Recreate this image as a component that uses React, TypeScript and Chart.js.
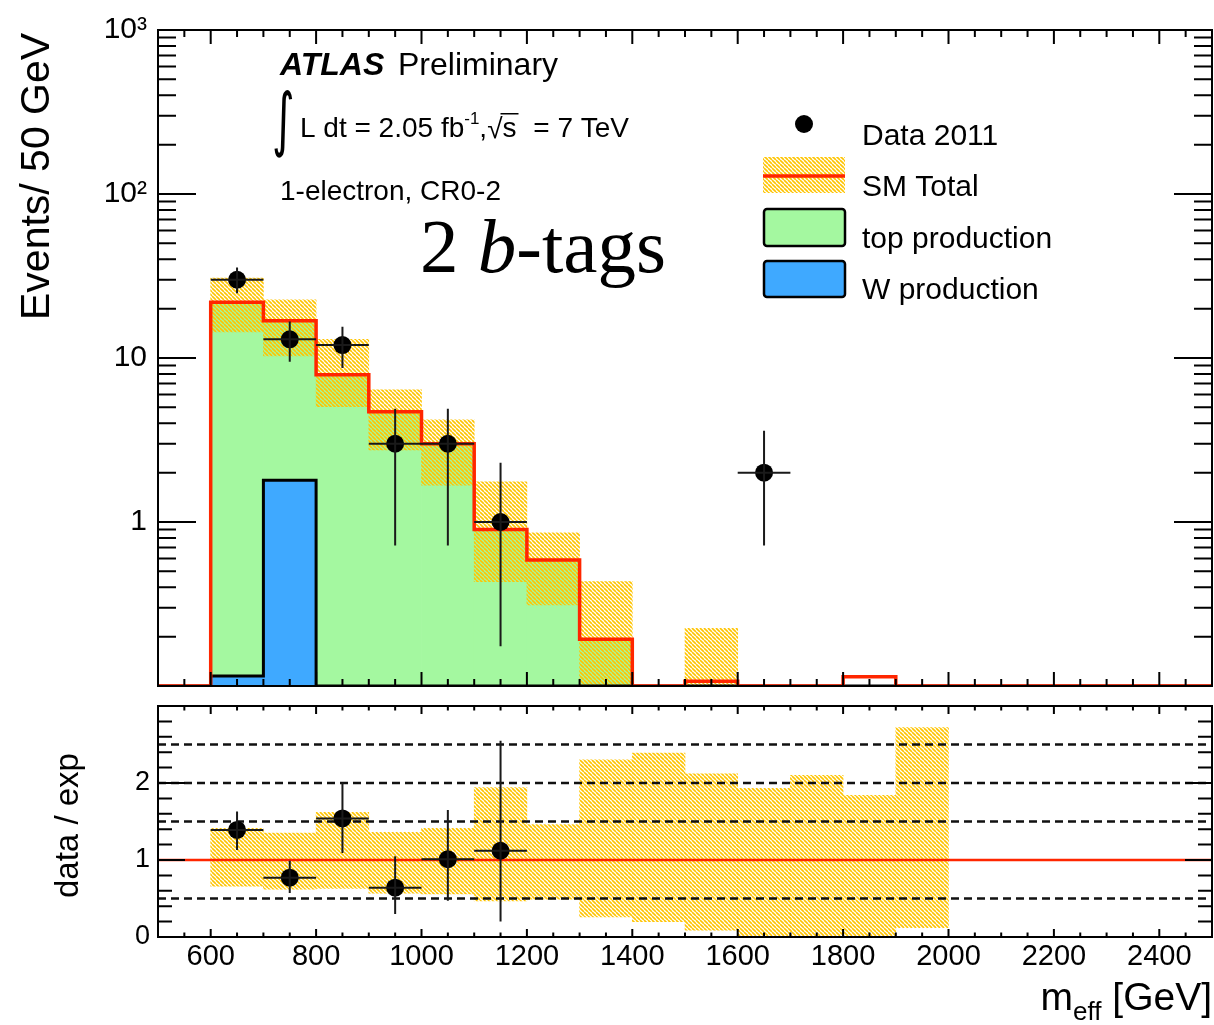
import React, { useEffect, useRef } from 'react';
import { Chart, registerables } from 'chart.js';

Chart.register(...registerables);

const SANS = '"Liberation Sans", Arial, Helvetica, sans-serif';
const SERIF = '"Liberation Serif", "Times New Roman", serif';

// ---------------- data ----------------
const binEdges = [500, 600, 700, 800, 900, 1000, 1100, 1200, 1300, 1400, 1500, 1600, 1700, 1800, 1900, 2000, 2100, 2200, 2300, 2400, 2500];
const binLabels = binEdges.slice(0, -1).map((lo, i) => `${lo}-${binEdges[i + 1]}`);

const smTotal = [0, 21.9, 16.9, 7.9, 4.7, 3.0, 0.9, 0.586, 0.193, 0.04, 0.107, 0.03, 0.03, 0.114, 0.035, 0, 0, 0, 0, 0];
const topProduction = [0, 21.8, 15.1, 7.9, 4.7, 3.0, 0.9, 0.586, 0.193, 0.04, 0.03, 0.03, 0.03, 0.03, 0.035, 0, 0, 0, 0, 0];
const wProduction = [0, 0.115, 1.8, 0, 0, 0, 0, 0, 0, 0, 0, 0, 0, 0, 0, 0, 0, 0, 0, 0];
const smBandHigh = [null, 30.7, 22.6, 13.0, 6.4, 4.2, 1.76, 0.86, 0.433, 0.09, 0.225, 0.058, 0.063, 0.205, 0.095, null, null, null, null, null];
const smBandLow = [null, 14.4, 10.3, 5.05, 2.75, 1.68, 0.433, 0.312, 0.048, 0.008, 0.01, 0, 0, 0, 0.004, null, null, null, null, null];

const dataMeff = [650, 750, 850, 950, 1050, 1150, 1650];
const dataEvents = [30, 13, 12, 3, 3, 1, 2];
const dataErrHigh = [35.6, 16.7, 15.5, 4.9, 4.9, 2.3, 3.6];
const dataErrLow = [24.8, 9.5, 8.7, 0.72, 0.72, 0.175, 0.72];

const ratioMeff = [650, 750, 850, 950, 1050, 1150];
const ratioValues = [1.39, 0.77, 1.54, 0.64, 1.01, 1.12];
const ratioErrHigh = [1.63, 0.99, 2.0, 1.05, 1.65, 2.55];
const ratioErrLow = [1.13, 0.57, 1.09, 0.30, 0.47, 0.20];
const ratioBandHigh = [null, 1.41, 1.35, 1.62, 1.36, 1.41, 1.94, 1.46, 2.30, 2.39, 2.12, 1.93, 2.10, 1.84, 2.72, null, null, null, null, null];
const ratioBandLow = [null, 0.66, 0.62, 0.63, 0.57, 0.56, 0.47, 0.49, 0.26, 0.20, 0.09, 0, 0, 0, 0.12, null, null, null, null, null];
const ratioRefLines = [0.5, 1.5, 2, 2.5];
const ratioUnity = 1;

const yTickValues = [1, 10, 100, 1000];
const yTickLabels = ['1', '10', '10²', '10³'];
const xTickValues = [600, 800, 1000, 1200, 1400, 1600, 1800, 2000, 2200, 2400];
const ratioTickValues = [0, 1, 2];
const ratioTickLabels = ['0', '1', '2'];

const X_MIN = 500;
const X_MAX = 2500;
const Y_MIN = 0.1;
const Y_MAX = 1000;

const GREEN = '#a4f8a0';
const BLUE = '#3fa9ff';
const RED = '#ff2600';
const HATCH = '#ffc400';

// ---------------- helpers ----------------
function makeHatch(color: string): CanvasPattern | string {
  const s = 4;
  const c = document.createElement('canvas');
  c.width = s;
  c.height = s;
  const g = c.getContext('2d');
  if (!g) return color;
  g.strokeStyle = color;
  g.lineWidth = 1.6;
  g.beginPath();
  for (const x0 of [-s, 0, s]) {
    g.moveTo(x0, 0);
    g.lineTo(x0 + s, s);
  }
  g.stroke();
  return g.createPattern(c, 'repeat') || color;
}

function stepPoints(values: number[], floor: number) {
  const pts = values.map((v, i) => ({ x: binEdges[i], y: Math.max(v, floor) }));
  pts.push({ x: binEdges[binEdges.length - 1], y: Math.max(values[values.length - 1], floor) });
  return pts;
}

type Tick = { v: number; len: number };

function framePlugin(id: string, xTicks: Tick[], yTicks: Tick[]) {
  return {
    id,
    afterDraw(chart: any) {
      const { ctx, chartArea: a, scales } = chart;
      ctx.save();
      ctx.strokeStyle = '#000';
      ctx.lineWidth = 2;
      ctx.beginPath();
      for (const t of xTicks) {
        const px = scales.x.getPixelForValue(t.v);
        ctx.moveTo(px, a.bottom);
        ctx.lineTo(px, a.bottom - t.len);
        ctx.moveTo(px, a.top);
        ctx.lineTo(px, a.top + t.len);
      }
      for (const t of yTicks) {
        const py = scales.y.getPixelForValue(t.v);
        ctx.moveTo(a.left, py);
        ctx.lineTo(a.left + t.len, py);
        ctx.moveTo(a.right, py);
        ctx.lineTo(a.right - t.len, py);
      }
      ctx.stroke();
      ctx.strokeRect(a.left, a.top, a.right - a.left, a.bottom - a.top);
      ctx.restore();
    },
  };
}

function errorBarPlugin(id: string, xs: number[], ys: number[], hi: number[], lo: number[]) {
  return {
    id,
    afterDatasetsDraw(chart: any) {
      const { ctx, chartArea: a, scales } = chart;
      ctx.save();
      ctx.beginPath();
      ctx.rect(a.left, a.top, a.right - a.left, a.bottom - a.top);
      ctx.clip();
      ctx.strokeStyle = '#1a1a1a';
      ctx.lineWidth = 2;
      ctx.beginPath();
      for (let i = 0; i < xs.length; i++) {
        const px = scales.x.getPixelForValue(xs[i]);
        const py = scales.y.getPixelForValue(ys[i]);
        ctx.moveTo(scales.x.getPixelForValue(xs[i] - 50), py);
        ctx.lineTo(scales.x.getPixelForValue(xs[i] + 50), py);
        ctx.moveTo(px, scales.y.getPixelForValue(hi[i]));
        ctx.lineTo(px, scales.y.getPixelForValue(lo[i]));
      }
      ctx.stroke();
      ctx.restore();
    },
  };
}

function xTickList(major: number, minor: number): Tick[] {
  const out: Tick[] = [];
  for (let v = X_MIN; v <= X_MAX; v += 50) out.push({ v, len: v % 200 === 0 ? major : minor });
  return out;
}

function logTickList(major: number, minor: number): Tick[] {
  const out: Tick[] = [];
  for (let d = Y_MIN; d < Y_MAX * 0.99; d *= 10) {
    for (let k = 1; k <= 9; k++) out.push({ v: k * d, len: k === 1 ? major : minor });
  }
  out.push({ v: Y_MAX, len: major });
  return out;
}

function ratioTickList(major: number, minor: number): Tick[] {
  const out: Tick[] = [];
  for (let k = 0; k <= 15; k++) out.push({ v: k / 5, len: k % 5 === 0 ? major : minor });
  return out;
}

function topTextPlugin(hatch: CanvasPattern | string) {
  return {
    id: 'topText',
    afterDraw(chart: any) {
      const ctx: CanvasRenderingContext2D = chart.ctx;
      ctx.save();
      ctx.fillStyle = '#000';
      ctx.textAlign = 'left';
      ctx.textBaseline = 'alphabetic';

      // y title
      ctx.save();
      ctx.translate(49, 320);
      ctx.rotate(-Math.PI / 2);
      ctx.font = `41px ${SANS}`;
      ctx.fillText('Events/ 50 GeV', 0, 0);
      ctx.restore();

      // ATLAS Preliminary
      ctx.font = `italic bold 32px ${SANS}`;
      ctx.fillText('ATLAS', 280, 75);
      ctx.font = `32px ${SANS}`;
      ctx.fillText('Preliminary', 398, 75);

      // integral line
      ctx.save();
      ctx.translate(272, 143);
      ctx.scale(0.62, 1);
      ctx.font = `70px "DejaVu Sans", sans-serif`;
      ctx.fillText('∫', 0, 0);
      ctx.restore();
      let x = 300;
      const base = 137;
      ctx.font = `28px ${SANS}`;
      ctx.fillText('L dt = 2.05 fb', x, base);
      x += ctx.measureText('L dt = 2.05 fb').width;
      ctx.font = `17px ${SANS}`;
      ctx.fillText('-1', x, base - 13);
      x += ctx.measureText('-1').width;
      ctx.font = `28px ${SANS}`;
      ctx.fillText(',', x, base);
      x += ctx.measureText(',').width;
      ctx.fillText('√', x, base + 1);
      x += ctx.measureText('√').width;
      const sw = ctx.measureText('s').width;
      ctx.fillText('s', x, base);
      ctx.fillRect(x - 2, base - 24, sw + 4, 1.5);
      x += sw;
      ctx.fillText(' = 7 TeV', x + 9, base);

      ctx.font = `28px ${SANS}`;
      ctx.fillText('1-electron, CR0-2', 280, 200);

      // 2 b-tags
      x = 420;
      ctx.font = `77px ${SERIF}`;
      ctx.fillText('2 ', x, 272);
      x += ctx.measureText('2 ').width;
      ctx.font = `italic 77px ${SERIF}`;
      ctx.fillText('b', x, 272);
      x += ctx.measureText('b').width;
      ctx.font = `77px ${SERIF}`;
      ctx.fillText('-tags', x, 272);

      // legend
      ctx.beginPath();
      ctx.arc(804, 124, 9, 0, Math.PI * 2);
      ctx.fill();

      ctx.fillStyle = hatch as any;
      ctx.fillRect(763, 157, 82, 36);
      ctx.strokeStyle = RED;
      ctx.lineWidth = 3.5;
      ctx.beginPath();
      ctx.moveTo(763, 176);
      ctx.lineTo(845, 176);
      ctx.stroke();

      ctx.lineWidth = 2.5;
      ctx.strokeStyle = '#000';
      ctx.fillStyle = GREEN;
      ctx.beginPath();
      (ctx as any).roundRect(764, 209, 81, 37, 3);
      ctx.fill();
      ctx.stroke();
      ctx.fillStyle = BLUE;
      ctx.beginPath();
      (ctx as any).roundRect(764, 261, 81, 36, 3);
      ctx.fill();
      ctx.stroke();

      ctx.fillStyle = '#000';
      ctx.font = `30px ${SANS}`;
      ctx.fillText('Data 2011', 862, 145);
      ctx.fillText('SM Total', 862, 196);
      ctx.fillText('top production', 862, 248);
      ctx.fillText('W production', 862, 299);
      ctx.restore();
    },
  };
}

const bottomTextPlugin = {
  id: 'bottomText',
  afterDraw(chart: any) {
    const ctx: CanvasRenderingContext2D = chart.ctx;
    ctx.save();
    ctx.fillStyle = '#000';
    ctx.textBaseline = 'alphabetic';
    ctx.textAlign = 'left';
    ctx.save();
    ctx.translate(78, 218);
    ctx.rotate(-Math.PI / 2);
    ctx.font = `33px ${SANS}`;
    ctx.fillText('data / exp', 0, 0);
    ctx.restore();

    const main = `39px ${SANS}`;
    const sub = `26px ${SANS}`;
    ctx.font = main;
    const wm = ctx.measureText('m').width;
    const wg = ctx.measureText(' [GeV]').width;
    ctx.font = sub;
    const we = ctx.measureText('eff').width;
    let x = chart.chartArea.right - (wm + we + wg);
    ctx.font = main;
    ctx.fillText('m', x, 330);
    x += wm;
    ctx.font = sub;
    ctx.fillText('eff', x, 340);
    x += we;
    ctx.font = main;
    ctx.fillText(' [GeV]', x, 330);
    ctx.restore();
  },
};

export default function App() {
  const topRef = useRef<HTMLCanvasElement>(null);
  const botRef = useRef<HTMLCanvasElement>(null);

  useEffect(() => {
    if (!topRef.current || !botRef.current) return;
    const hatch = makeHatch(HATCH);

    const barCommon = {
      type: 'bar' as const,
      xAxisID: 'xb',
      yAxisID: 'y',
      barPercentage: 1,
      categoryPercentage: 1,
      grouped: false,
      borderWidth: 0,
      clip: 0,
    };

    const topChart = new Chart(topRef.current, {
      type: 'bar',
      data: {
        labels: binLabels,
        datasets: [
          {
            type: 'line',
            label: 'Data 2011',
            xAxisID: 'x',
            yAxisID: 'y',
            data: dataMeff.map((x, i) => ({ x, y: dataEvents[i] })),
            showLine: false,
            pointRadius: 9,
            pointBackgroundColor: '#000',
            pointBorderWidth: 0,
            order: 1,
          },
          {
            type: 'line',
            label: 'SM Total',
            xAxisID: 'x',
            yAxisID: 'y',
            data: stepPoints(smTotal, Y_MIN),
            stepped: 'before',
            borderColor: RED,
            borderWidth: 3.5,
            pointRadius: 0,
            fill: false,
            order: 2,
          },
          {
            type: 'line',
            label: 'W outline',
            xAxisID: 'x',
            yAxisID: 'y',
            data: stepPoints(wProduction, Y_MIN),
            stepped: 'before',
            borderColor: '#000',
            borderWidth: 3,
            pointRadius: 0,
            fill: false,
            order: 3,
          },
          {
            ...barCommon,
            label: 'SM uncertainty',
            data: smBandHigh.map((hi, i) => (hi == null ? null : [smBandLow[i] as number, hi])),
            backgroundColor: hatch as any,
            order: 4,
          },
          {
            ...barCommon,
            label: 'W production',
            data: wProduction,
            backgroundColor: BLUE,
            order: 5,
          },
          {
            ...barCommon,
            label: 'top production',
            data: topProduction.map((v, i) => v + wProduction[i]),
            backgroundColor: GREEN,
            order: 6,
          },
        ] as any,
      },
      options: {
        responsive: false,
        animation: false,
        events: [],
        layout: { autoPadding: false, padding: { left: 0, right: 2, top: 30, bottom: 34 } },
        plugins: { legend: { display: false }, tooltip: { enabled: false } },
        scales: {
          x: { type: 'linear', min: X_MIN, max: X_MAX, display: false, offset: false, grid: { offset: false } },
          xb: { type: 'category', display: false, offset: true },
          y: {
            type: 'logarithmic',
            min: Y_MIN,
            max: Y_MAX,
            position: 'left',
            afterBuildTicks: (s: any) => {
              s.ticks = yTickValues.map((v) => ({ value: v }));
            },
            afterFit: (s: any) => {
              s.width = 158;
            },
            grid: { display: false, drawTicks: false },
            border: { display: false },
            ticks: {
              autoSkip: false,
              padding: 11,
              color: '#000',
              font: { family: SANS, size: 30 },
              callback: (_v: any, i: number) => yTickLabels[i],
            },
          },
        } as any,
      },
      plugins: [
        errorBarPlugin('topErr', dataMeff, dataEvents, dataErrHigh, dataErrLow),
        framePlugin('topFrame', xTickList(14, 7), logTickList(38, 18)),
        topTextPlugin(hatch),
      ],
    });

    const botChart = new Chart(botRef.current, {
      type: 'bar',
      data: {
        labels: binLabels,
        datasets: [
          {
            type: 'line',
            label: 'ratio',
            xAxisID: 'x',
            yAxisID: 'y',
            data: ratioMeff.map((x, i) => ({ x, y: ratioValues[i] })),
            showLine: false,
            pointRadius: 9,
            pointBackgroundColor: '#000',
            pointBorderWidth: 0,
            order: 1,
          },
          {
            type: 'line',
            label: 'unity',
            xAxisID: 'x',
            yAxisID: 'y',
            data: [{ x: X_MIN, y: ratioUnity }, { x: X_MAX, y: ratioUnity }],
            borderColor: RED,
            borderWidth: 2.5,
            pointRadius: 0,
            fill: false,
            order: 2,
          },
          ...ratioRefLines.map((r) => ({
            type: 'line',
            label: `ref ${r}`,
            xAxisID: 'x',
            yAxisID: 'y',
            data: [{ x: X_MIN, y: r }, { x: X_MAX, y: r }],
            borderColor: '#111',
            borderWidth: 2.5,
            borderDash: [8, 5],
            pointRadius: 0,
            fill: false,
            order: 3,
          })),
          {
            ...barCommon,
            label: 'band',
            data: ratioBandHigh.map((hi, i) => (hi == null ? null : [ratioBandLow[i] as number, hi])),
            backgroundColor: hatch as any,
            order: 10,
          },
        ] as any,
      },
      options: {
        responsive: false,
        animation: false,
        events: [],
        layout: { autoPadding: false, padding: { left: 0, right: 2, top: 26, bottom: 0 } },
        plugins: { legend: { display: false }, tooltip: { enabled: false } },
        scales: {
          x: {
            type: 'linear',
            min: X_MIN,
            max: X_MAX,
            position: 'bottom',
            offset: false,
            afterBuildTicks: (s: any) => {
              s.ticks = xTickValues.map((v) => ({ value: v }));
            },
            afterFit: (s: any) => {
              s.height = 88;
            },
            grid: { display: false, drawTicks: false, offset: false },
            border: { display: false },
            ticks: {
              autoSkip: false,
              maxRotation: 0,
              padding: 3,
              color: '#000',
              font: { family: SANS, size: 29 },
              callback: (_v: any, i: number) => String(xTickValues[i]),
            },
          },
          xb: { type: 'category', display: false, offset: true },
          y: {
            type: 'linear',
            min: 0,
            max: 3,
            position: 'left',
            afterBuildTicks: (s: any) => {
              s.ticks = ratioTickValues.map((v) => ({ value: v }));
            },
            afterFit: (s: any) => {
              s.width = 158;
            },
            grid: { display: false, drawTicks: false },
            border: { display: false },
            ticks: {
              autoSkip: false,
              padding: 8,
              color: '#000',
              font: { family: SANS, size: 27 },
              callback: (_v: any, i: number) => ratioTickLabels[i],
            },
          },
        } as any,
      },
      plugins: [
        errorBarPlugin('botErr', ratioMeff, ratioValues, ratioErrHigh, ratioErrLow),
        framePlugin('botFrame', xTickList(8, 4.5), ratioTickList(27, 14)),
        bottomTextPlugin,
      ],
    });

    return () => {
      topChart.destroy();
      botChart.destroy();
    };
  }, []);

  return (
    <div style={{ position: 'absolute', left: 0, top: 0, width: 1214, height: 1025, background: '#fff' }}>
      <canvas ref={topRef} width={1214} height={720} style={{ position: 'absolute', left: 0, top: 0 }} />
      <canvas ref={botRef} width={1214} height={345} style={{ position: 'absolute', left: 0, top: 680 }} />
    </div>
  );
}
